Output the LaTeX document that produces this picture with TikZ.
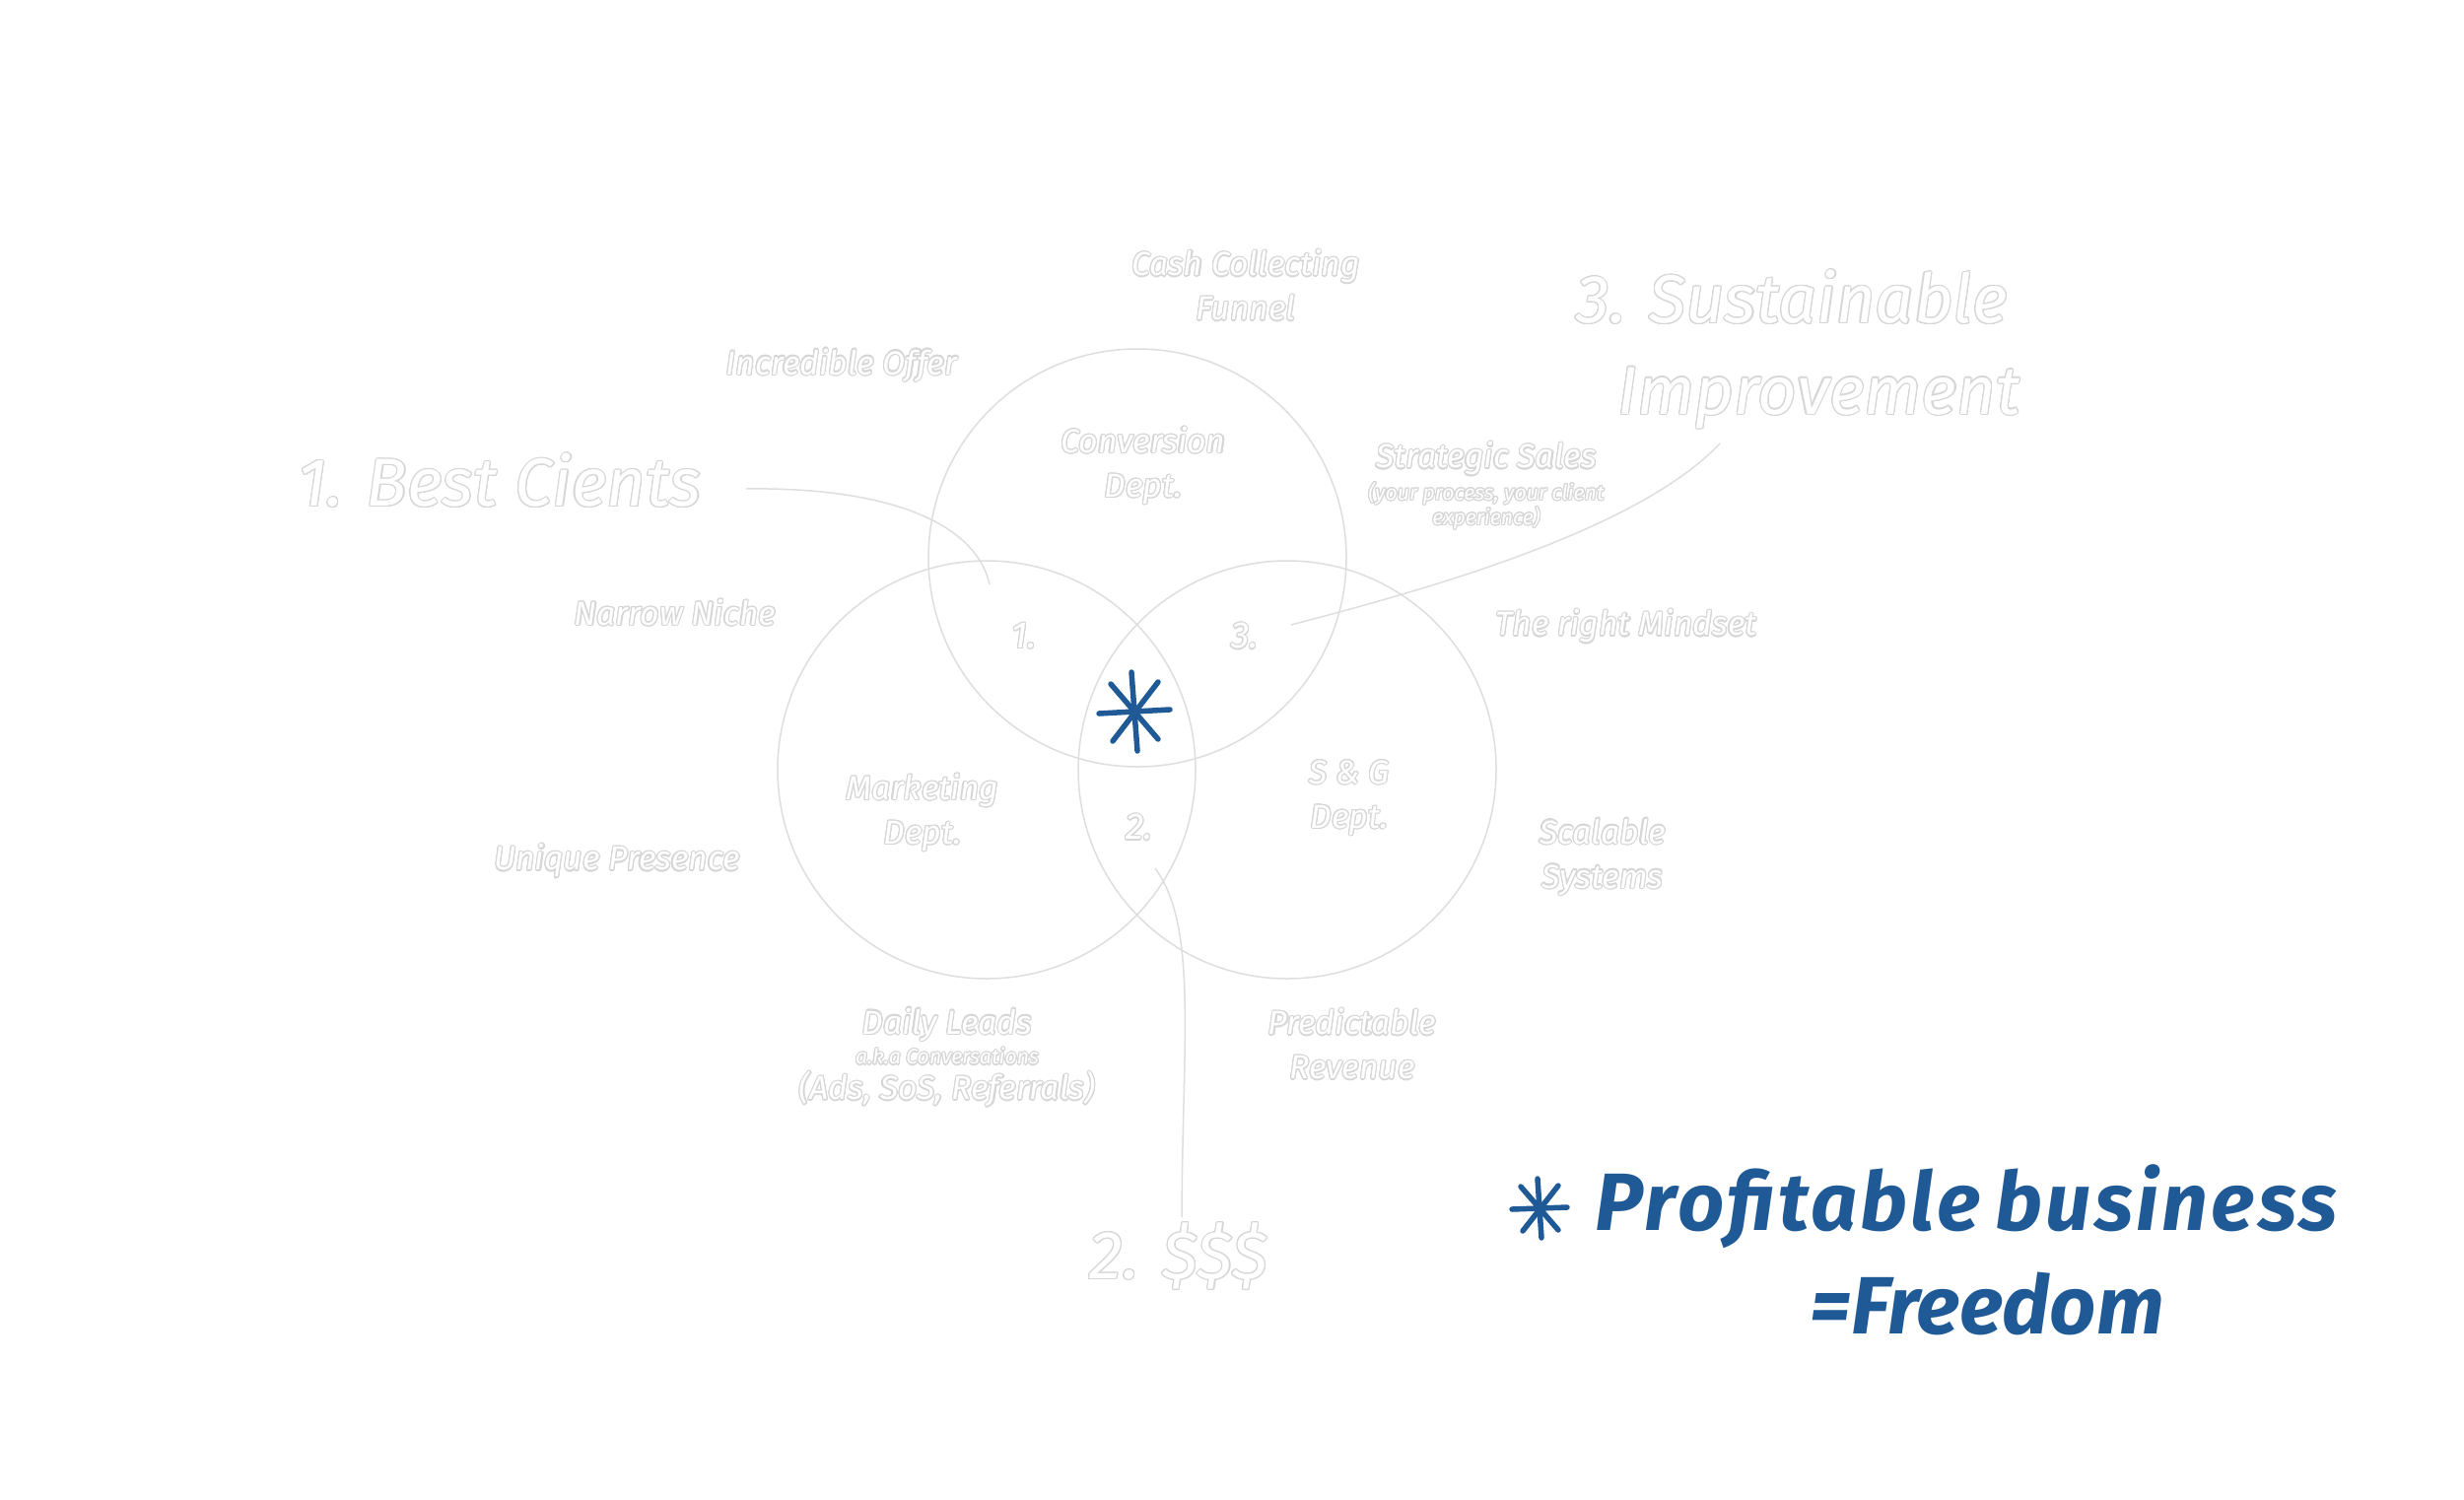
\documentclass[tikz,border=0pt]{standalone}
\usepackage{fontspec}
\setmainfont{Fira Sans}
\usepackage[copies]{contour}
\usetikzlibrary{positioning}
\contourlength{0.45pt}
\contournumber{16}
\definecolor{outl}{HTML}{D6D6D6}
\definecolor{lineg}{HTML}{DEDEDE}
\definecolor{pblue}{HTML}{1F5A96}
\newcommand{\ol}[1]{\contour{outl}{#1}}
\tikzset{
  lbl/.style={text=white, font=\itshape\fontsize{13.5}{16}\selectfont, align=center, inner sep=1pt},
  sml/.style={text=white, font=\itshape\fontsize{8.5}{10}\selectfont, align=center, inner sep=1pt},
  big/.style={text=white, font=\itshape\fontsize{27.5}{33}\selectfont, align=center, inner sep=1pt},
  num/.style={text=white, font=\itshape\fontsize{15}{18}\selectfont, inner sep=1pt},
  circ/.style={circle, draw=lineg, line width=0.6pt, minimum size=169.6pt, inner sep=0},
  conn/.style={draw=lineg, line width=0.6pt},
  starline/.style={draw=pblue, line width=2.2pt, line cap=round},
  bluetxt/.style={text=pblue, font=\bfseries\itshape\fontsize{33}{38}\selectfont, inner sep=0}
}
\begin{document}
\begin{tikzpicture}[x=0.4pt,y=-0.4pt]
\useasboundingbox[fill=white] (0,0) rectangle (2500,1521);

% circles
\node[circ] (cTop) at (1154,566) {};
\node[circ] (cLeft) at (1001,781) {};
\node[circ] (cRight) at (1306,781) {};

% circle labels
\node[lbl] (conv) at (1160,473) {\ol{Conversion}\\[2pt]\ol{Dept.}};
\node[lbl] (mkt) at (936,825) {\ol{Marketing}\\[2pt]\ol{Dept.}};
\node[lbl] (sg) at (1369,810) {\ol{S \& G}\\[2pt]\ol{Dept.}};

% region numbers
\node[num] (n1) at (1039,646) {\ol{1.}};
\node[num] (n3) at (1263,646) {\ol{3.}};
\node[num] (n2) at (1156,840) {\ol{2.}};

% outer labels
\node[lbl] (cash) at (1264,290) {\ol{Cash Collecting}\\[2pt]\ol{Funnel}};
\node[lbl] (offer) at (854,371) {\ol{Incredible Offer}};
\node[lbl] (strat) at (1508,466) {\ol{Strategic Sales}};
\node[sml, below=0pt of strat] (proc) {\ol{(your process, your client}\\\ol{experience)}};
\node[lbl] (niche) at (685,622) {\ol{Narrow Niche}};
\node[lbl] (mind) at (1650,636) {\ol{The right Mindset}};
\node[lbl] (uniq) at (626,874) {\ol{Unique Presence}};
\node[lbl] (scal) at (1626,870) {\ol{Scalable}\\[2pt]\ol{Systems}};
\node[lbl] (daily) at (961,1040) {\ol{Daily Leads}};
\node[sml, below=0pt of daily] (aka) {\ol{a.k.a Conversations}};
\node[lbl, below=0pt of aka] (ads) {\ol{(Ads, SoS, Referrals)}};
\node[lbl] (pred) at (1372,1060) {\ol{Predictable}\\[2pt]\ol{Revenue}};

% big labels
\node[big] (best) at (507,488) {\ol{1. Best Cients}};
\node[big] (sus) at (1818,355) {\ol{3. Sustainable}\\[4pt]\hspace*{22pt}\ol{Improvement}};
\node[big] (dol) at (1196,1275) {\ol{2. \$\$\$}};

% connectors
\coordinate (bcStart) at (757,496);
\coordinate (bcEnd) at (1004,593);
\draw[conn] (bcStart) .. controls (900,494) and (990,530) .. (bcEnd);
\coordinate (susStart) at (1745,450);
\coordinate (susEnd) at (1310,634);
\draw[conn] (susStart) .. controls (1660,540) and (1440,600) .. (susEnd);
\coordinate (twoStart) at (1172,881);
\coordinate (twoEnd) at (1199,1235);
\draw[conn] (twoStart) .. controls (1215,940) and (1200,1050) .. (twoEnd);

% central asterisk
\coordinate (star) at (1151,722);
\draw[starline] (star) ++(-3,-40) -- ++(6,80);
\draw[starline] (star) ++(-36,2) -- ++(72,-4);
\draw[starline] (star) ++(-24,-28) -- ++(48,56);
\draw[starline] (star) ++(24,-30) -- ++(-46,60);

% legend
\coordinate (lstar) at (1562,1226);
\draw[starline] (lstar) ++(-2,-30) -- ++(4,60);
\draw[starline] (lstar) ++(-28,1) -- ++(56,-2);
\draw[starline] (lstar) ++(-19,-22) -- ++(38,44);
\draw[starline] (lstar) ++(19,-23) -- ++(-36,46);
\node[bluetxt, anchor=west] (prof) at (1618,1224) {\addfontfeature{LetterSpace=4}Profitable\hspace{6pt}business};
\node[bluetxt] (free) at (2016,1323) {=Freedom};
\end{tikzpicture}
\end{document}
